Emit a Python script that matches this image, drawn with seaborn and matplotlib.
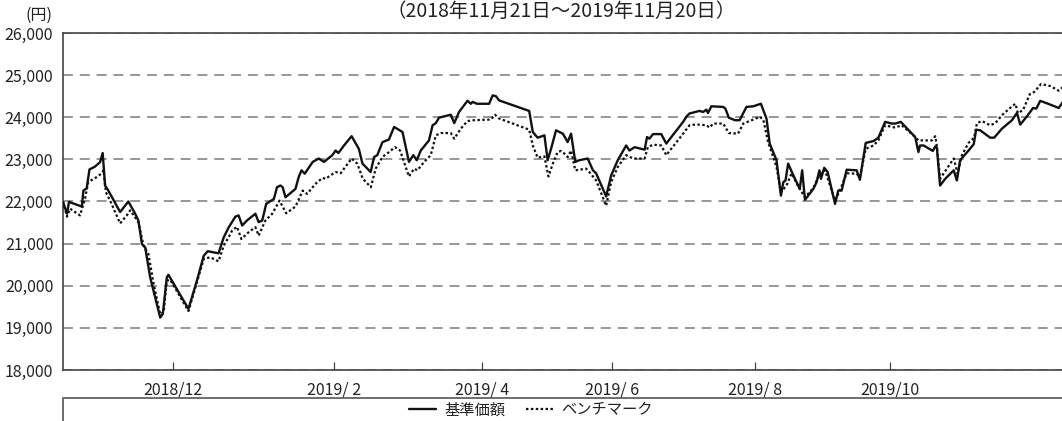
import matplotlib
matplotlib.use("Agg")
import matplotlib.pyplot as plt
from matplotlib.patches import Rectangle
from matplotlib.lines import Line2D
import seaborn as sns
import pandas as pd

# ---- data (business-day position, value in yen) ----
nav_day = [0, 1, 1.5, 4.7, 5.1, 5.9, 6.6, 8, 9.25, 9.9, 10.5, 11.3, 14.25, 16.3, 18, 18.8, 19.7, 20.5,
           21.75, 24.25, 24.9, 25.9, 26.3, 31.3, 33.4, 35.1, 36.1, 38.8, 40.1, 41.3, 43, 43.8, 44.7,
           45.9, 48, 48.8, 49.7, 50.7, 52.6, 53.4, 54.25, 54.8, 55.5, 58, 58.8, 59.5, 60.3, 62.3, 63.8,
           65.1, 67.2, 68, 68.7, 70.1, 72, 73.8, 74.7, 76.75, 77.6, 78.4, 79.7, 81.3, 82.6, 84.7, 86.3,
           87.4, 88.25, 89.25, 91.3, 92.2, 93, 93.8, 96.75, 97.6, 98.8, 100.9, 101.75, 102.2, 103.25,
           106.3, 107.2, 108, 108.8, 116.3, 117.2, 118.4, 120.1, 120.9, 121.75, 123, 124.7, 125.9,
           126.75, 127.8, 128.8, 130.9, 132.2, 133, 135.5, 136.75, 138.4, 140.5, 141.3, 142.6, 145.1,
           145.7, 146.3, 147.2, 149.25, 150.5, 154.7, 155.5, 156.3, 158.8, 159.7, 160.5, 160.9, 161.75,
           164.7, 165.25, 166.1, 167.6, 168.8, 170.5, 172.2, 174.1, 175.5, 176.3, 178, 179.1, 179.7,
           180.25, 180.9, 182.2, 183.8, 184.4, 185.1, 187.2, 188, 188.7, 189.1, 189.9, 190.75, 192.6,
           193.4, 194.25, 195.5, 198, 198.8, 200.25, 202.2, 203.4, 205.1, 206.75, 207.6, 209, 212.6,
           213.4, 213.8, 214.7, 217, 217.6, 218, 218.8, 220.1, 222.2, 223, 223.8, 225.9, 227.2, 227.8,
           228.8, 231.3, 232.3, 234.25, 236.75, 237.6, 238, 238.8, 240.5, 242, 242.8, 243.8, 246.3,
           248.4, 249.7]
nav_value = [21990, 21710, 21990, 21880, 22260, 22310, 22760, 22830, 22935, 23150, 22380, 22260, 21750,
             22000, 21710, 21550, 20990, 20910, 20200, 19245, 19330, 20200, 20260, 19450, 20120, 20710,
             20820, 20770, 21150, 21380, 21640, 21670, 21430, 21550, 21710, 21510, 21550, 21945, 22060,
             22340, 22380, 22340, 22100, 22300, 22580, 22740, 22660, 22940, 23020, 22940, 23100, 23210,
             23150, 23330, 23550, 23250, 22900, 22700, 23055, 23100, 23410, 23470, 23770, 23650, 22940,
             23100, 22980, 23210, 23450, 23810, 23860, 23990, 24060, 23860, 24125, 24390, 24320, 24365,
             24320, 24320, 24520, 24500, 24400, 24150, 23650, 23515, 23570, 22980, 23250, 23690, 23610,
             23410, 23610, 22940, 22980, 23020, 22740, 22670, 22120, 22620, 22980, 23330, 23210, 23290,
             23230, 23530, 23490, 23600, 23600, 23375, 23890, 24010, 24090, 24150, 24125, 24180, 24100,
             24260, 24245, 24205, 23990, 23930, 23930, 24245, 24260, 24320, 23970, 23375, 22980, 22140,
             22460, 22500, 22900, 22620, 22300, 22740, 22040, 22300, 22460, 22740, 22540, 22800, 22700,
             21945, 22260, 22260, 22755, 22740, 22515, 23390, 23435, 23515, 23890, 23850, 23850, 23890,
             23530, 23175, 23330, 23330, 23200, 23310, 23280, 22380, 22540, 22740, 22500, 22980, 23210,
             23360, 23705, 23690, 23515, 23515, 23730, 23930, 24050, 24100, 23825, 24025, 24220, 24205,
             24390, 24300, 24220, 24400]

bm_day = [0, 1, 1.75, 4.25, 5.5, 6.3, 8.4, 9.7, 10.1, 10.7, 11.75, 14.25, 15.9, 16.75, 18.8, 20.1, 21.3,
          22.6, 24.25, 25.1, 25.9, 26.75, 31.3, 33.4, 35.1, 36.75, 38.8, 40.1, 41.3, 42.2, 43.4, 44.5,
          46.3, 48, 48.8, 50.5, 52.2, 54, 55.7, 58, 59.8, 60.9, 63, 64.7, 65.5, 68, 69.25, 72, 73.4,
          74.8, 76.8, 78, 79.7, 81.3, 82.8, 84.1, 86.3, 87.6, 88.4, 90.1, 91.75, 93, 94.25, 96.75, 97.6,
          99.25, 100.9, 102.6, 106.75, 107.75, 108.8, 116.3, 117.2, 118.4, 120.1, 121.1, 122.2, 123.4,
          124.25, 125.1, 125.9, 126.75, 127.8, 130.5, 131.3, 133, 135.5, 136.75, 138.4, 140.5, 142.2,
          145.1, 145.9, 147.2, 149.25, 150.5, 154.7, 156.3, 158, 160.5, 161.3, 162.2, 164.7, 166.1,
          168.4, 169.7, 172.2, 173.8, 174.7, 175.9, 178, 179.1, 180.5, 181.75, 183.4, 185.1, 187.2,
          188.8, 190.1, 192.6, 193.8, 195.5, 198, 198.8, 200.25, 202.2, 203.4, 205.1, 206.75, 207.6,
          209.25, 212.6, 213.4, 216.75, 217.6, 218, 218.8, 220.5, 222.2, 223.2, 224.25, 225.9, 227.3,
          228, 229.25, 231.3, 232.6, 234.25, 236.75, 237.6, 238.2, 239.5, 241.2, 242.3, 244, 246.3,
          248.4, 249.7]
bm_value = [22000, 21640, 21830, 21670, 22070, 22460, 22580, 22670, 22740, 22220, 22020, 21480, 21670,
            21790, 21510, 20950, 20755, 20050, 19325, 19365, 20120, 20140, 19400, 20080, 20640, 20675,
            20580, 20950, 21150, 21310, 21400, 21110, 21270, 21390, 21190, 21550, 21710, 22020, 21720,
            21880, 22260, 22180, 22420, 22560, 22540, 22700, 22670, 23020, 22900, 22540, 22340, 22780,
            23060, 23170, 23290, 23210, 22595, 22780, 22740, 22940, 23100, 23570, 23625, 23625, 23490,
            23730, 23910, 23930, 23945, 24060, 23970, 23705, 23330, 23040, 23070, 22595, 22900, 23175,
            23200, 23135, 23055, 23210, 22740, 22780, 22700, 22500, 21900, 22460, 22820, 23100, 23020,
            23020, 23290, 23350, 23330, 23100, 23610, 23810, 23830, 23810, 23755, 23850, 23850, 23625,
            23610, 23850, 23945, 24010, 23945, 23410, 22820, 22220, 22380, 22670, 22360, 22100, 22325,
            22660, 22740, 22020, 22260, 22670, 22660, 22580, 23250, 23330, 23450, 23810, 23770, 23755,
            23810, 23530, 23450, 23450, 23550, 23310, 22540, 22780, 23020, 22660, 23100, 23390, 23515,
            23860, 23910, 23810, 23860, 24050, 24260, 24320, 24100, 24170, 24550, 24600, 24790, 24740,
            24630, 24740]

tick_days = [27.5, 67.5, 104.5, 137, 172.75, 206.25]
tick_labels = ["2018/12", "2019/ 2", "2019/ 4", "2019/ 6", "2019/ 8", "2019/10"]
y_ticks = [18000, 19000, 20000, 21000, 22000, 23000, 24000, 25000, 26000]

title = "（2018年11月21日～2019年11月20日）"
unit_label = "(円)"
series_names = ["基準価額", "ベンチマーク"]

# ---- style ----
sns.set_theme(style="white")
plt.rcParams["font.family"] = ["Noto Sans CJK JP", "DejaVu Sans"]
plt.rcParams["text.color"] = "#222222"

W, H = 1062, 421
fig = plt.figure(figsize=(W / 100, H / 100), dpi=100)
ax = fig.add_axes([63 / W, 51 / H, (W - 63) / W + 0.002, 337 / H])

nav_df = pd.DataFrame({"day": nav_day, "value": nav_value})
bm_df = pd.DataFrame({"day": bm_day, "value": bm_value})

sns.lineplot(data=bm_df, x="day", y="value", ax=ax, color="#111111", lw=1.6,
             linestyle=(0, (1.1, 1.1)), zorder=3)
sns.lineplot(data=nav_df, x="day", y="value", ax=ax, color="#111111", lw=1.7, zorder=4)

ax.set_xlim(0, 249.75)
ax.set_ylim(18000, 26000)
ax.set_yticks(y_ticks)
ax.set_yticklabels([f"{v:,}" for v in y_ticks])
ax.set_xticks(tick_days)
ax.set_xticklabels(tick_labels)
ax.set_xlabel("")
ax.set_ylabel("")

ax.yaxis.grid(True, color="#7a7a7a", linestyle=(0, (6.5, 4.5)), lw=1.1)
ax.xaxis.grid(False)
ax.set_axisbelow(True)

for side in ["left", "bottom", "top"]:
    ax.spines[side].set_visible(True)
    ax.spines[side].set_color("#444444")
    ax.spines[side].set_linewidth(1.2)
ax.spines["right"].set_visible(False)

ax.tick_params(axis="y", length=0, pad=7, labelsize=11.5, labelcolor="#222222")
ax.tick_params(axis="x", direction="in", length=6, width=0.9, color="#444444",
               pad=8, labelsize=11.5, labelcolor="#222222", bottom=True)

fig.text(39 / W, 1 - 15 / H, unit_label, ha="center", va="center", fontsize=11.5)
fig.text(561 / W, 1 - 11 / H, title, ha="center", va="center", fontsize=14)

# legend frame and legend
fig.add_artist(Rectangle((63 / W, -0.2), 1.0, 0.2 + (H - 398) / H, transform=fig.transFigure,
                         fill=False, edgecolor="#555555", lw=1.2, clip_on=False))
handles = [Line2D([0], [0], color="#111111", lw=1.7),
           Line2D([0], [0], color="#111111", lw=1.6, linestyle=(0, (1.1, 1.1)))]
fig.legend(handles, series_names, loc="center", bbox_to_anchor=(531 / W, 1 - 410 / H),
           ncol=2, frameon=False, fontsize=11, handlelength=1.75, handletextpad=0.55,
           columnspacing=1.4, borderpad=0, borderaxespad=0)

fig.savefig("out.png", dpi=100)
